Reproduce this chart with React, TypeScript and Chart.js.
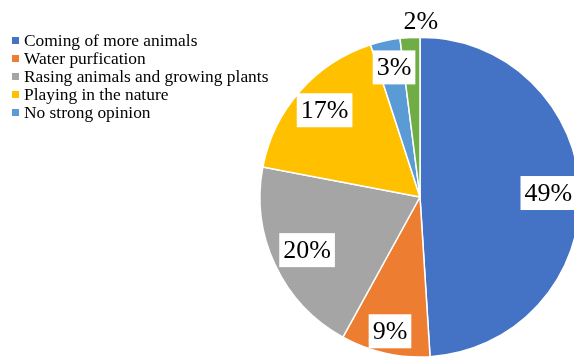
import React, { useEffect, useRef } from "react";
import { Chart, registerables } from "chart.js";

Chart.register(...registerables);

const categories = [
  "Coming of more animals",
  "Water purfication",
  "Rasing animals and growing plants",
  "Playing in the nature",
  "No strong opinion",
  "Other",
];
const values = [49, 9, 20, 17, 3, 2];
const colors = ["#4472C4", "#ED7D31", "#A5A5A5", "#FFC000", "#5B9BD5", "#70AD47"];
const legendCount = 5;
const labelRadiusFactors = [0.79, 0.86, 0.78, 0.82, 0.83, 1.1];
const labelShiftX = [2, 0, 0, 3, 3, 12];

const SERIF = '"Liberation Serif", "Times New Roman", serif';

const labelPlugin = {
  id: "pctLabels",
  afterDatasetsDraw(chart: any) {
    const ctx = chart.ctx;
    const meta = chart.getDatasetMeta(0);
    ctx.save();
    ctx.font = `26px ${SERIF}`;
    ctx.textAlign = "center";
    ctx.textBaseline = "middle";
    meta.data.forEach((arc: any, i: number) => {
      const { x, y, startAngle, endAngle, outerRadius } = arc.getProps(
        ["x", "y", "startAngle", "endAngle", "outerRadius"],
        true
      );
      const mid = (startAngle + endAngle) / 2;
      const r = outerRadius * labelRadiusFactors[i];
      const lx = x + Math.cos(mid) * r + labelShiftX[i];
      const ly = y + Math.sin(mid) * r;
      const text = `${values[i]}%`;
      const w = ctx.measureText(text).width;
      ctx.fillStyle = "#ffffff";
      ctx.fillRect(lx - w / 2 - 4, ly - 17, w + 8, 34);
      ctx.fillStyle = "#000000";
      ctx.fillText(text, lx, ly + 1);
    });
    ctx.restore();
  },
};

export default function App() {
  const ref = useRef<HTMLCanvasElement | null>(null);
  useEffect(() => {
    if (!ref.current) return;
    const chart = new Chart(ref.current, {
      type: "pie",
      data: {
        labels: categories,
        datasets: [
          {
            data: values,
            backgroundColor: colors,
            borderColor: "#ffffff",
            borderWidth: 1.5,
            radius: 160,
          } as any,
        ],
      },
      options: {
        animation: false,
        responsive: false,
        devicePixelRatio: 1,
        layout: { padding: { left: 260, right: 20, top: 37, bottom: 1 } },
        plugins: {
          legend: { display: false },
          tooltip: { enabled: false },
        },
      },
      plugins: [labelPlugin],
    });
    return () => chart.destroy();
  }, []);

  return (
    <div
      style={{
        position: "absolute",
        left: 0,
        top: 0,
        width: 574,
        height: 358,
        overflow: "hidden",
        background: "#ffffff",
      }}
    >
      <canvas ref={ref} width={600} height={358} style={{ position: "absolute", left: 0, top: 0 }} />
      <div
        style={{
          position: "absolute",
          left: 12,
          top: 31,
          fontFamily: SERIF,
          fontSize: 17.4,
          lineHeight: "18px",
          color: "#000",
          whiteSpace: "nowrap",
        }}
      >
        {categories.slice(0, legendCount).map((c, i) => (
          <div key={c} style={{ display: "flex", alignItems: "center", height: 18 }}>
            <span
              style={{
                display: "inline-block",
                width: 7,
                height: 7,
                background: colors[i],
                marginRight: 5,
              }}
            />
            <span>{c}</span>
          </div>
        ))}
      </div>
    </div>
  );
}
